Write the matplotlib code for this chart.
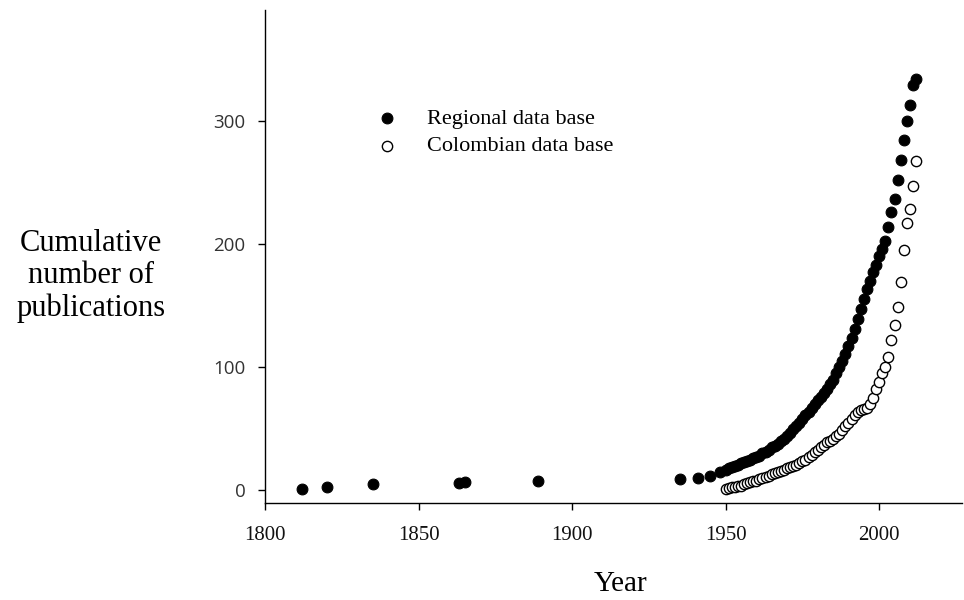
import matplotlib
matplotlib.use("Agg")
import matplotlib.pyplot as plt
import numpy as np

# cumulative publications, regional data base
regional_years = [1812, 1820, 1835, 1863, 1865, 1889, 1935, 1941, 1945, 1948,
                  1950, 1951, 1952, 1953, 1954, 1955, 1956, 1957, 1958, 1959,
                  1960, 1961, 1962, 1963, 1964, 1965, 1966, 1967, 1968, 1969,
                  1970, 1971, 1972, 1973, 1974, 1975, 1976, 1977, 1978, 1979,
                  1980, 1981, 1982, 1983, 1984, 1985, 1986, 1987, 1988, 1989,
                  1990, 1991, 1992, 1993, 1994, 1995, 1996, 1997, 1998, 1999,
                  2000, 2001, 2002, 2003, 2004, 2005, 2006, 2007, 2008, 2009,
                  2010, 2011, 2012]
regional_counts = [1, 3, 5, 6, 7, 8, 9, 10, 12, 15,
                   17, 18, 19, 20, 21, 22, 23, 24, 25, 26,
                   27, 28, 30, 31, 33, 35, 36, 38, 40, 42,
                   44, 47, 50, 52, 55, 58, 61, 64, 67, 70,
                   73, 76, 79, 82, 86, 90, 95, 100, 105, 111,
                   117, 124, 131, 139, 147, 155, 163, 170, 177, 183,
                   190, 196, 202, 214, 226, 236, 252, 268, 284, 300,
                   313, 329, 334]

# cumulative publications, Colombian data base
colombian_years = list(range(1950, 2013))
colombian_counts = [1, 2, 3, 3, 4, 4, 5, 6, 7, 8,
                    8, 9, 10, 11, 12, 13, 14, 15, 16, 17,
                    18, 19, 20, 21, 22, 24, 25, 27, 29, 31,
                    33, 35, 37, 39, 40, 42, 44, 46, 49, 52,
                    55, 58, 61, 64, 65, 66, 67, 70, 75, 82,
                    88, 95, 100, 108, 122, 134, 149, 169, 195, 217,
                    228, 247, 267]

x_ticks = [1800, 1850, 1900, 1950, 2000]
y_ticks = [0, 100, 200, 300]

serif = "Liberation Serif"

fig = plt.figure(figsize=(9.64, 6.0), dpi=100)
ax = fig.add_axes([0.275, 0.162, 0.723, 0.822])

ax.scatter(regional_years, regional_counts, s=60, color="black", edgecolors="black",
           linewidths=0.8, label="Regional data base", zorder=3)
ax.scatter(colombian_years, colombian_counts, s=55, facecolors="white", edgecolors="black",
           linewidths=1.0, label="Colombian data base", zorder=2)

ax.set_xlim(1800, 2027)
ax.set_ylim(-10, 390)
ax.set_xticks(x_ticks)
ax.set_yticks(y_ticks)

for side in ("top", "right"):
    ax.spines[side].set_visible(False)
for side in ("left", "bottom"):
    ax.spines[side].set_linewidth(1.0)

ax.tick_params(axis="both", direction="out", length=5, width=1.0)
ax.tick_params(axis="x", pad=12, labelsize=15)
ax.tick_params(axis="y", pad=9, labelsize=13.5)
for lab in ax.get_xticklabels():
    lab.set_fontfamily(serif)
    lab.set_color("#111111")
for lab in ax.get_yticklabels():
    lab.set_fontfamily("Open Sans")
    lab.set_color("#333333")

fig.text(0.094, 0.54, "Cumulative\nnumber of\npublications", ha="center", va="center",
         fontsize=22, family=serif, linespacing=1.15)
fig.text(0.644, 0.015, "Year", ha="center", va="baseline", fontsize=21, family=serif)

ax.legend(loc="upper left", bbox_to_anchor=(0.13, 0.818), frameon=False,
          prop={"family": serif, "size": 16}, handletextpad=0.8,
          labelspacing=0.32, borderaxespad=0, scatterpoints=1)

fig.savefig("out.png", dpi=100)
